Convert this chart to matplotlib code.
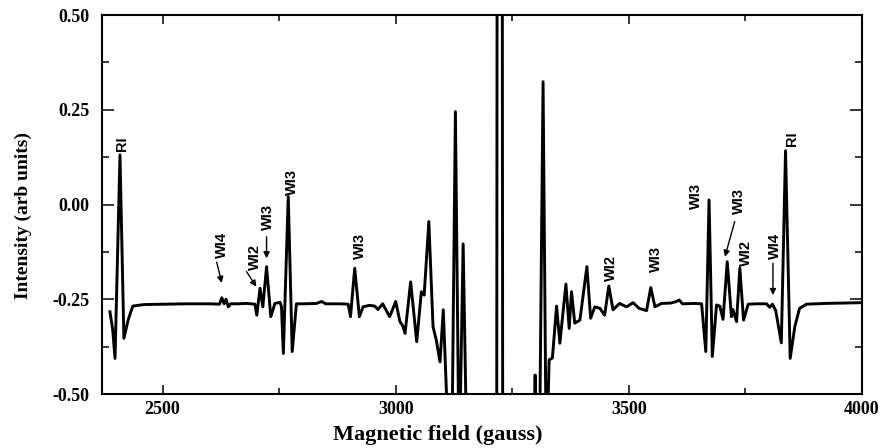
import matplotlib
matplotlib.use("Agg")
import matplotlib.pyplot as plt
from matplotlib.ticker import MultipleLocator, FormatStrFormatter

# EPR derivative spectrum, field in gauss, intensity in arb. units
field = [2387, 2393, 2398, 2408.6, 2417, 2426, 2436, 2460, 2500, 2550, 2600, 2622,
         2627, 2632, 2636, 2641, 2646, 2660, 2680, 2698,
         2702, 2709, 2715, 2723, 2732, 2741, 2752, 2755, 2759, 2769.5, 2778, 2787,
         2800, 2830, 2841, 2850, 2880, 2898,
         2903, 2912, 2922, 2930, 2944, 2955, 2962, 2972, 2987, 3000, 3009, 3015,
         3020, 3032, 3045, 3055, 3061, 3071, 3080, 3087, 3095, 3102, 3112, 3120,
         3128, 3136, 3144.6, 3153, 3190, 3216, 3218, 3228, 3230, 3270, 3296,
         3299, 3302, 3308, 3316, 3323, 3329, 3336, 3345, 3352, 3365, 3372, 3377,
         3384, 3395, 3410, 3418, 3427, 3438, 3448, 3457, 3466, 3480, 3495, 3509,
         3522, 3538, 3547, 3556, 3570, 3590, 3602, 3608, 3615, 3640, 3656,
         3665, 3672, 3679, 3688, 3695, 3702, 3711, 3720, 3723, 3731, 3738, 3746,
         3756, 3775, 3795, 3802, 3808, 3815, 3827, 3836, 3846, 3856, 3866, 3881,
         3920, 3960, 4000]
intensity = [-0.283, -0.33, -0.406, 0.131, -0.353, -0.305, -0.268, -0.264, -0.263, -0.262, -0.262, -0.263,
             -0.246, -0.262, -0.250, -0.270, -0.262, -0.262, -0.261, -0.263,
             -0.292, -0.221, -0.270, -0.164, -0.296, -0.261, -0.258, -0.270, -0.393, 0.021, -0.388, -0.262,
             -0.262, -0.261, -0.256, -0.262, -0.262, -0.263,
             -0.296, -0.168, -0.296, -0.270, -0.266, -0.268, -0.277, -0.262, -0.296, -0.256, -0.309, -0.320,
             -0.340, -0.204, -0.362, -0.230, -0.239, -0.045, -0.322, -0.358, -0.415, -0.278, -0.600, -0.700,
             0.245, -0.700, -0.104, -0.700, -0.800, -1.500, 1.500, 1.500, -1.500, -0.800, -0.600,
             -0.450, -0.600, -0.700, 0.324, -0.700, -0.410, -0.405, -0.268, -0.366, -0.210, -0.327, -0.230,
             -0.313, -0.305, -0.164, -0.300, -0.270, -0.274, -0.292, -0.215, -0.278, -0.261, -0.270, -0.259,
             -0.274, -0.280, -0.219, -0.270, -0.261, -0.260, -0.256, -0.252, -0.262, -0.261, -0.262,
             -0.388, 0.012, -0.401, -0.265, -0.268, -0.303, -0.151, -0.296, -0.277, -0.309, -0.168, -0.305,
             -0.263, -0.262, -0.262, -0.271, -0.263, -0.280, -0.365, 0.142, -0.406, -0.322, -0.274, -0.263,
             -0.261, -0.260, -0.259]

# line assignments: text and centre of each rotated label
labels = ["RI", "WI4", "WI2", "WI3", "WI3", "WI3",
          "WI2", "WI3", "WI3", "WI3", "WI2", "WI4", "RI"]
label_x = [2413, 2627, 2698, 2726, 2777, 2923,
           3462, 3558, 3645, 3736, 3752, 3813, 3849]
label_y = [0.160, -0.107, -0.138, -0.032, 0.060, -0.109,
           -0.167, -0.144, 0.022, 0.009, -0.127, -0.109, 0.173]
# pointer arrows for the weaker lines
arrow_from = {1: (2616, -0.152), 2: (2680, -0.177), 3: (2723, -0.085),
              9: (3727, -0.045), 11: (3809, -0.155)}
arrow_to = {1: (2627, -0.207), 2: (2701, -0.217), 3: (2723, -0.142),
            9: (3706, -0.138), 11: (3809, -0.239)}

serif = {"family": "Liberation Serif", "weight": "bold"}

fig = plt.figure(figsize=(8.86, 4.48), dpi=100)
ax = fig.add_axes([0.1151, 0.1205, 0.8578, 0.846])

ax.plot(field, intensity, color="black", lw=2.1, solid_joinstyle="round")

for i, txt in enumerate(labels):
    ax.text(label_x[i], label_y[i], txt, rotation=90, ha="center", va="center",
            fontsize=10.5, fontweight="bold", family="Liberation Sans")
for i in arrow_from:
    ax.annotate("", xy=arrow_to[i], xytext=arrow_from[i],
                arrowprops=dict(arrowstyle="-|>", color="black", lw=1.0,
                                mutation_scale=9, shrinkA=0, shrinkB=0))

ax.set_xlim(2370, 4000)
ax.set_ylim(-0.5, 0.5)
ax.xaxis.set_major_locator(MultipleLocator(500))
ax.xaxis.set_minor_locator(MultipleLocator(250))
ax.yaxis.set_major_locator(MultipleLocator(0.25))
ax.yaxis.set_minor_locator(MultipleLocator(0.125))
ax.yaxis.set_major_formatter(FormatStrFormatter("%.2f"))

ax.tick_params(which="both", direction="in", top=True, right=True, width=1.1)
ax.tick_params(axis="x", which="major", length=6.5, pad=5)
ax.tick_params(axis="x", which="minor", length=4)
ax.tick_params(axis="y", which="major", length=8.5, pad=9)
ax.tick_params(axis="y", which="minor", length=5)
for lab in ax.get_xticklabels() + ax.get_yticklabels():
    lab.set_fontproperties(serif)
    lab.set_fontsize(13)
for sp in ax.spines.values():
    sp.set_linewidth(1.5)

ax.set_xlabel("Magnetic field (gauss)", fontsize=16, **serif)
ax.xaxis.set_label_coords(0.442, -0.083)
ax.set_ylabel("Intensity (arb units)", fontsize=14, **serif)
ax.yaxis.set_label_coords(-0.092, 0.472)

fig.savefig("out.png", dpi=100)
